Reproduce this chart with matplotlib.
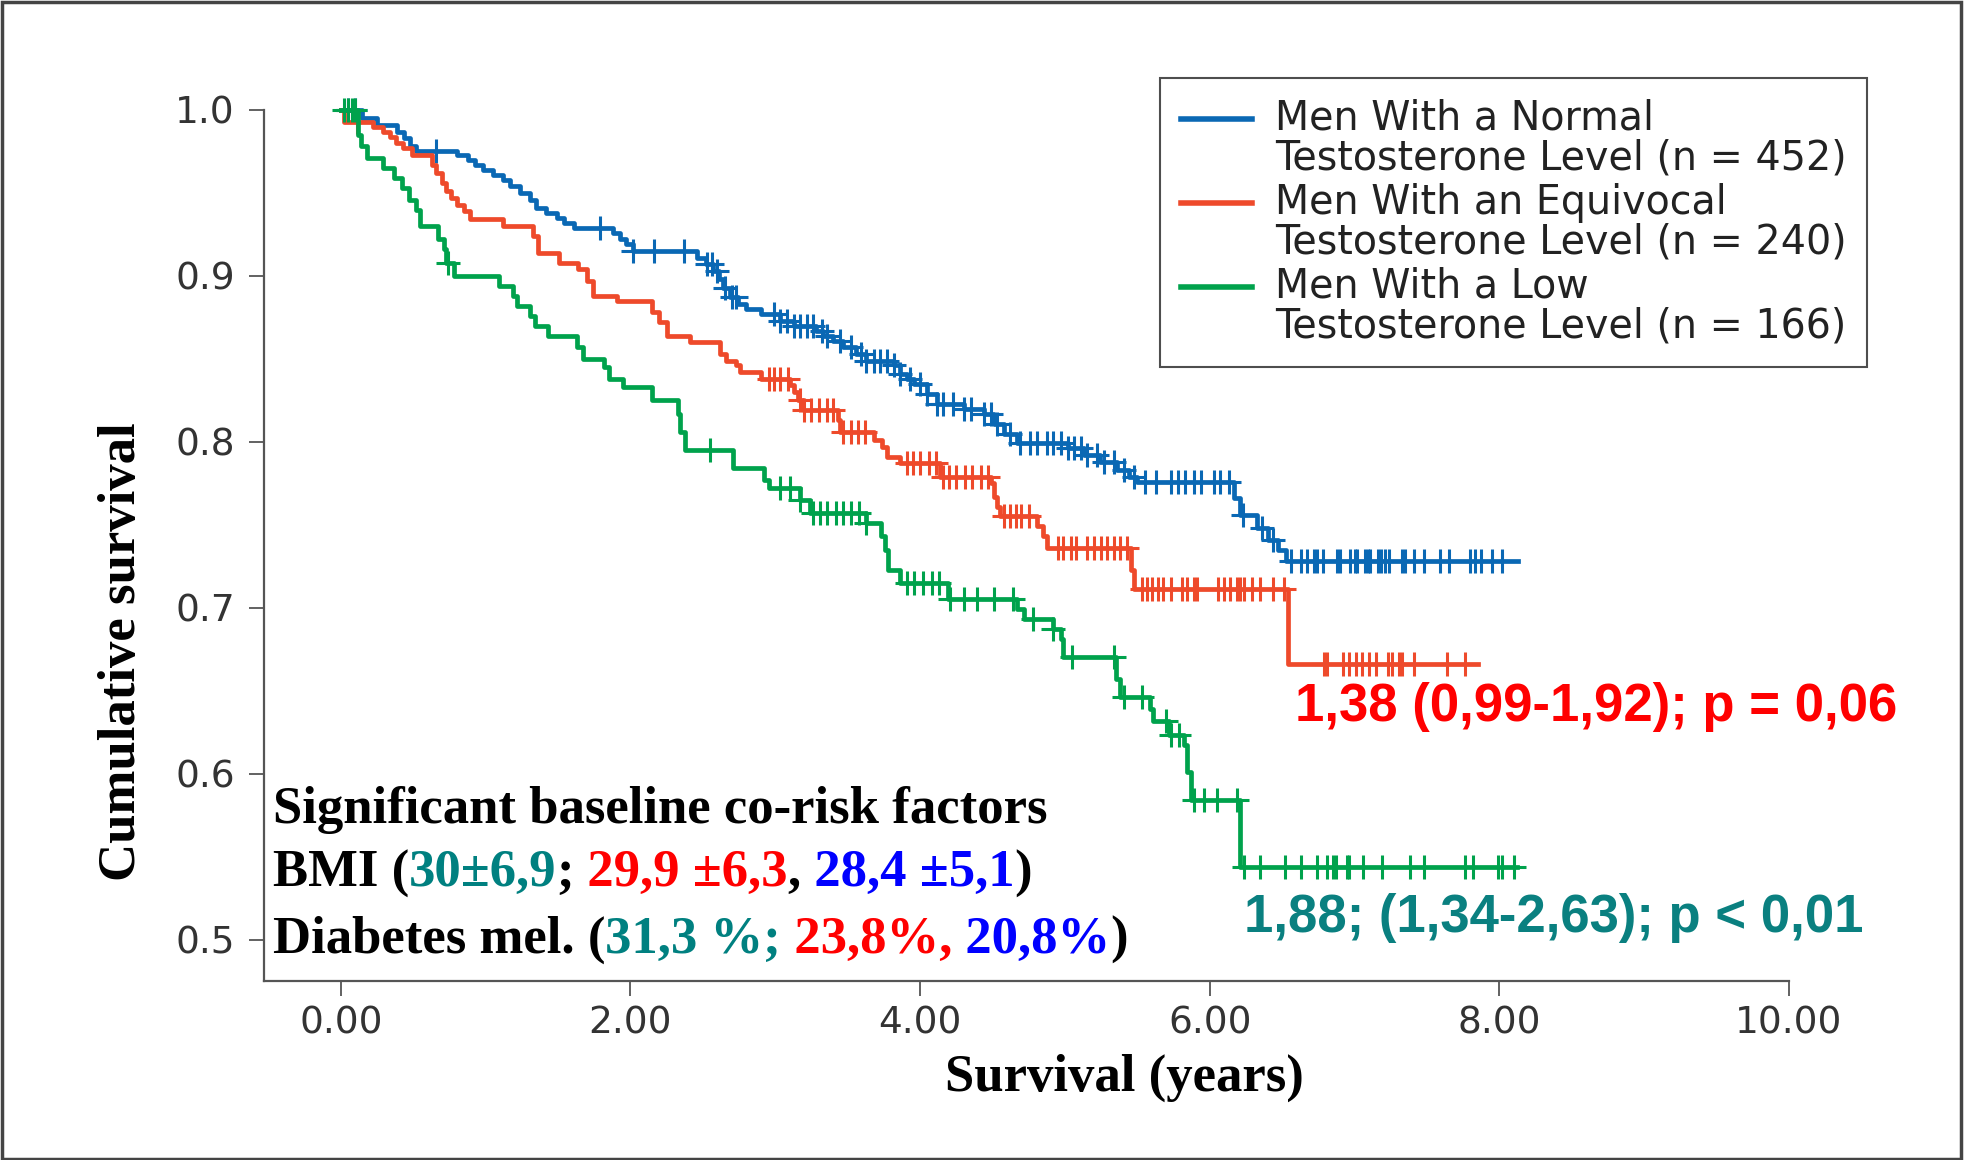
import numpy as np
import matplotlib
matplotlib.use("Agg")
import matplotlib.pyplot as plt
from matplotlib.lines import Line2D
from matplotlib.patches import Rectangle
from matplotlib.legend_handler import HandlerLine2D

# ---- data ----
group_labels = [
    "Men With a Normal\nTestosterone Level (n = 452)",
    "Men With an Equivocal\nTestosterone Level (n = 240)",
    "Men With a Low\nTestosterone Level (n = 166)",
]
group_colors = ["#0a68b4", "#ee4a2b", "#00a24c"]

# normal testosterone: event times and survival after each step
normal_event_t = [0.15, 0.25, 0.39, 0.44, 0.48, 0.52, 0.80, 0.88, 0.93, 0.98, 1.05, 1.12,
                  1.17, 1.24, 1.31, 1.35, 1.42, 1.49, 1.54, 1.61, 1.88, 1.93, 1.97, 2.02,
                  2.46, 2.52, 2.57, 2.61, 2.64, 2.69, 2.74, 2.80, 2.90, 3.03, 3.13, 3.28,
                  3.33, 3.40, 3.47, 3.56, 3.63, 3.82, 3.86, 3.91, 3.96, 4.05, 4.12, 4.30,
                  4.44, 4.51, 4.58, 4.67, 5.02, 5.13, 5.24, 5.36, 5.44, 5.50, 6.17, 6.21,
                  6.33, 6.40, 6.47, 6.53]
normal_event_s = [0.995, 0.991, 0.987, 0.983, 0.978, 0.975, 0.973, 0.970, 0.967, 0.964, 0.961, 0.958,
                  0.954, 0.950, 0.946, 0.941, 0.938, 0.935, 0.932, 0.929, 0.926, 0.922, 0.919, 0.915,
                  0.911, 0.907, 0.903, 0.898, 0.893, 0.887, 0.883, 0.880, 0.877, 0.873, 0.870, 0.867,
                  0.864, 0.861, 0.857, 0.853, 0.849, 0.846, 0.841, 0.838, 0.835, 0.829, 0.823, 0.820,
                  0.817, 0.811, 0.805, 0.799, 0.796, 0.792, 0.788, 0.783, 0.779, 0.776, 0.766, 0.756,
                  0.748, 0.741, 0.735, 0.728]
normal_end = 8.13
normal_censor_t = [0.05, 0.10, 0.66, 1.79, 2.02, 2.16, 2.37, 2.53, 2.56, 2.60, 2.65, 2.70, 2.73,
                   2.99, 3.03, 3.08, 3.13, 3.17, 3.22, 3.26, 3.32, 3.36, 3.45, 3.52, 3.59, 3.63,
                   3.68, 3.72, 3.77, 3.82, 3.86, 3.93, 4.00, 4.05, 4.12, 4.16, 4.23, 4.30, 4.35,
                   4.44, 4.49, 4.53, 4.62, 4.69, 4.76, 4.81, 4.88, 4.92, 4.97, 5.02, 5.06, 5.11,
                   5.15, 5.22, 5.27, 5.34, 5.41, 5.48, 5.55, 5.63, 5.73, 5.78, 5.83, 5.89, 5.94,
                   6.03, 6.07, 6.13, 6.23, 6.36, 6.44, 6.56, 6.63, 6.67, 6.72, 6.74, 6.78, 6.88,
                   6.90, 6.97, 7.00, 7.02, 7.07, 7.09, 7.11, 7.16, 7.18, 7.21, 7.24, 7.33, 7.35,
                   7.41, 7.48, 7.59, 7.65, 7.80, 7.83, 7.87, 7.95, 8.02]

equivocal_event_t = [0.02, 0.22, 0.29, 0.34, 0.38, 0.43, 0.49, 0.63, 0.66, 0.70, 0.73, 0.76,
                     0.80, 0.85, 0.89, 1.12, 1.33, 1.36, 1.51, 1.64, 1.70, 1.74, 1.91, 2.15,
                     2.20, 2.25, 2.41, 2.62, 2.66, 2.73, 2.76, 2.90, 3.10, 3.13, 3.16, 3.19,
                     3.43, 3.45, 3.68, 3.74, 3.77, 3.86, 4.14, 4.49, 4.51, 4.53, 4.55, 4.81,
                     4.85, 4.88, 5.46, 5.48, 6.54]
equivocal_event_s = [0.993, 0.990, 0.987, 0.984, 0.980, 0.977, 0.973, 0.967, 0.962, 0.956, 0.951, 0.947,
                     0.943, 0.939, 0.934, 0.930, 0.924, 0.914, 0.908, 0.904, 0.897, 0.888, 0.885, 0.878,
                     0.872, 0.864, 0.860, 0.853, 0.849, 0.846, 0.842, 0.838, 0.834, 0.830, 0.825, 0.819,
                     0.813, 0.806, 0.801, 0.797, 0.791, 0.787, 0.779, 0.775, 0.767, 0.761, 0.755, 0.749,
                     0.743, 0.736, 0.723, 0.711, 0.666]
equivocal_end = 7.85
equivocal_censor_t = [0.11, 2.96, 2.99, 3.03, 3.09, 3.17, 3.20, 3.25, 3.30, 3.36, 3.40, 3.47,
                      3.52, 3.57, 3.62, 3.91, 3.95, 4.00, 4.06, 4.11, 4.16, 4.20, 4.25, 4.31,
                      4.36, 4.42, 4.47, 4.58, 4.62, 4.66, 4.70, 4.75, 4.95, 4.99, 5.04, 5.08,
                      5.15, 5.20, 5.25, 5.29, 5.34, 5.38, 5.43, 5.53, 5.57, 5.60, 5.64, 5.68,
                      5.73, 5.81, 5.84, 5.89, 5.91, 6.06, 6.10, 6.14, 6.19, 6.21, 6.24, 6.29,
                      6.35, 6.44, 6.51, 6.79, 6.81, 6.92, 6.96, 7.01, 7.05, 7.10, 7.15, 7.23,
                      7.26, 7.31, 7.33, 7.41, 7.64, 7.76]

low_event_t = [0.12, 0.14, 0.18, 0.29, 0.37, 0.42, 0.47, 0.52, 0.55, 0.67, 0.71, 0.73,
               0.78, 1.09, 1.19, 1.22, 1.31, 1.34, 1.43, 1.63, 1.67, 1.82, 1.85, 1.95,
               2.15, 2.33, 2.34, 2.38, 2.71, 2.92, 2.96, 3.17, 3.24, 3.63, 3.73, 3.76,
               3.78, 3.86, 4.19, 4.67, 4.72, 4.92, 4.97, 4.99, 5.35, 5.38, 5.59, 5.61,
               5.72, 5.82, 5.84, 5.87, 6.21]
low_event_s = [0.985, 0.978, 0.971, 0.965, 0.959, 0.953, 0.946, 0.940, 0.930, 0.922, 0.916, 0.908,
               0.900, 0.894, 0.888, 0.882, 0.876, 0.870, 0.864, 0.857, 0.850, 0.845, 0.838, 0.833,
               0.825, 0.817, 0.806, 0.795, 0.784, 0.777, 0.772, 0.765, 0.757, 0.751, 0.743, 0.735,
               0.723, 0.715, 0.705, 0.699, 0.693, 0.687, 0.681, 0.670, 0.657, 0.646, 0.639, 0.632,
               0.623, 0.617, 0.601, 0.584, 0.544]
low_end = 8.12
low_censor_t = [0.02, 0.05, 0.08, 0.10, 0.74, 2.55, 3.03, 3.10, 3.17, 3.26, 3.31, 3.36,
                3.42, 3.47, 3.52, 3.58, 3.63, 3.91, 3.96, 4.02, 4.08, 4.13, 4.21, 4.30,
                4.39, 4.51, 4.64, 4.78, 4.92, 5.05, 5.34, 5.41, 5.53, 5.70, 5.73, 5.79,
                5.89, 5.96, 6.05, 6.19, 6.24, 6.35, 6.52, 6.63, 6.74, 6.81, 6.85, 6.87,
                6.95, 6.96, 7.06, 7.19, 7.38, 7.48, 7.76, 7.82, 7.99, 8.02, 8.10]

groups = [
    (normal_event_t, normal_event_s, normal_end, normal_censor_t),
    (equivocal_event_t, equivocal_event_s, equivocal_end, equivocal_censor_t),
    (low_event_t, low_event_s, low_end, low_censor_t),
]

y_ticks = [0.5, 0.6, 0.7, 0.8, 0.9, 1.0]
x_ticks = [0, 2, 4, 6, 8, 10]

hr_equivocal = "1,38 (0,99-1,92); p = 0,06"
hr_low = "1,88; (1,34-2,63); p < 0,01"

risk_title = "Significant baseline co-risk factors"
bmi_parts = [("BMI (", "black"), ("30±6,9", "#008080"), (";", "black"),
             (" 29,9 ±6,3", "#ff0000"), (",", "black"), (" 28,4 ±5,1", "#0000ff"),
             (")", "black")]
diab_parts = [("Diabetes mel. (", "black"), ("31,3 %;", "#008080"),
              (" 23,8%,", "#ff0000"), (" 20,8%", "#0000ff"), (")", "black")]


class FirstLineHandler(HandlerLine2D):
    # put the legend line next to the first line of a two-line label
    def create_artists(self, legend, orig_handle, xdescent, ydescent,
                       width, height, fontsize, trans):
        artists = super().create_artists(legend, orig_handle, xdescent, ydescent,
                                         width, height, fontsize, trans)
        for a in artists:
            a.set_ydata(np.asarray(a.get_ydata()) + 0.53 * fontsize)
        return artists


fig = plt.figure(figsize=(19.65, 11.6), dpi=100)
ax = fig.add_axes([264 / 1965, 1 - 981 / 1160, (1789 - 264) / 1965, (981 - 110) / 1160])

for (ev_t, ev_s, end, cens), col in zip(groups, group_colors):
    t = [0.0] + ev_t + [end]
    s = [1.0] + ev_s + [ev_s[-1]]
    ax.step(t, s, where="post", color=col, lw=3.4, clip_on=False, zorder=3)
    levels = np.array([1.0] + ev_s)
    idx = np.searchsorted(np.array(ev_t), np.array(cens), side="right")
    ax.plot(cens, levels[idx], ls="none", marker="+", ms=17, mew=2.2,
            color=col, clip_on=False, zorder=3)

ax.set_xlim(-0.53, 10.0)
ax.set_ylim(0.475, 1.0)
ax.set_xticks(x_ticks)
ax.set_xticklabels([f"{v:.2f}" for v in x_ticks])
ax.set_yticks(y_ticks)
ax.set_yticklabels([f"{v:.1f}" for v in y_ticks])
for side in ["top", "right"]:
    ax.spines[side].set_visible(False)
for side in ["left", "bottom"]:
    ax.spines[side].set_linewidth(1.6)
    ax.spines[side].set_color("#555555")
ax.tick_params(direction="out", length=11, width=1.3, color="#555555",
               labelsize=27, labelcolor="#333333", pad=7)
ax.tick_params(axis="y", pad=10)

ax.set_xlabel("Survival (years)", family="Liberation Serif", weight="bold", fontsize=38)
ax.xaxis.set_label_coords(0.564, -0.111)
ax.xaxis.label.set_va("center")
ax.set_ylabel("Cumulative survival", family="Liberation Serif", weight="bold", fontsize=38)
ax.yaxis.set_label_coords(-0.093, 0.378)
ax.yaxis.label.set_va("center")

handles = [Line2D([], [], color=c, lw=4) for c in group_colors]
leg = ax.legend(handles, group_labels, loc="upper right",
                bbox_to_anchor=(1867 / 1965, 1 - 78 / 1160), bbox_transform=fig.transFigure,
                borderaxespad=0, fontsize=28.5, frameon=True, fancybox=False,
                edgecolor="#222222", handlelength=1.8, handletextpad=0.57,
                labelspacing=0.1, borderpad=0.52,
                handler_map={Line2D: FirstLineHandler()})
leg.get_frame().set_linewidth(1.5)
for txt in leg.get_texts():
    txt.set_color("#222222")
    txt.set_linespacing(1.0)

ax.text(6.59, 0.640, hr_equivocal, color="#ff0000", family="Liberation Sans",
        weight="bold", fontsize=38, va="center", ha="left")
ax.text(6.24, 0.513, hr_low, color="#0a8080", family="Liberation Sans",
        weight="bold", fontsize=38, va="center", ha="left")

serif = dict(family="Liberation Serif", weight="bold", fontsize=38)
ax.text(-0.47, 0.570, risk_title, color="black", va="baseline", **serif)


def colored_line(parts, x0, y0):
    prev = ax.text(x0, y0, parts[0][0], color=parts[0][1], va="baseline", **serif)
    for s, c in parts[1:]:
        prev = ax.annotate(s, xy=(1, y0), xycoords=(prev, "data"), color=c,
                           va="baseline", ha="left", **serif)


colored_line(bmi_parts, -0.47, 0.532)
colored_line(diab_parts, -0.47, 0.492)

fig.patches.append(Rectangle((0.001, 0.001), 0.997, 0.997, transform=fig.transFigure,
                             fill=False, lw=2.5, ec="#444444"))

fig.savefig("out.png", dpi=100)
